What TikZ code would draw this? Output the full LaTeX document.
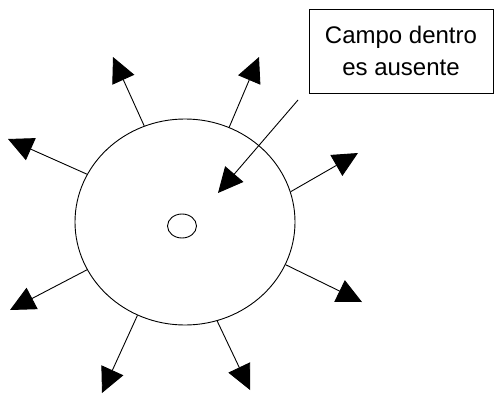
\documentclass[tikz,border=0pt]{standalone}
\usepackage{fontspec}
\setmainfont{Liberation Sans}
\usetikzlibrary{arrows.meta,shapes.geometric}
\begin{document}
\begin{tikzpicture}[x=1pt,y=-1pt,
  fieldarrow/.style={line width=0.9pt,-{Triangle[length=25pt,width=24pt]}},
  ball/.style={draw,line width=0.9pt,ellipse,inner sep=0pt,minimum width=220pt,minimum height=206pt},
  core/.style={draw,line width=0.9pt,ellipse,inner sep=0pt,minimum width=29pt,minimum height=24pt},
  note/.style={draw,line width=0.9pt,rectangle,inner sep=0pt,minimum width=184pt,minimum height=84pt,align=center,font=\fontsize{24}{32}\selectfont}]
\useasboundingbox (0,0) rectangle (494,396);
\fill[white] (0,0) rectangle (494,396);
\node[ball] (c) at (185,222) {};
\node[core] (o) at (182,226) {};
\node[note] (box) at (401,51) {Campo dentro\\es ausente};
\coordinate (t1) at (113,57);
\coordinate (t2) at (259,57);
\coordinate (t3) at (8,139);
\coordinate (t4) at (358,153);
\coordinate (t6) at (362,302);
\coordinate (t7) at (10,310);
\coordinate (t8) at (102,393);
\coordinate (t9) at (250,390);
\coordinate (p0) at (298,100);
\coordinate (p1) at (218,193);
\draw[fieldarrow] (c.113.6) -- (t1);
\draw[fieldarrow] (c.65.2) -- (t2);
\draw[fieldarrow] (c.154.8) -- (t3);
\draw[fieldarrow] (c.16.6) -- (t4);
\draw[fieldarrow] (c.-23.8) -- (t6);
\draw[fieldarrow] (c.206.8) -- (t7);
\draw[fieldarrow] (c.243.9) -- (t8);
\draw[fieldarrow] (c.288.6) -- (t9);
\draw[fieldarrow] (p0) -- (p1);
\end{tikzpicture}
\end{document}
